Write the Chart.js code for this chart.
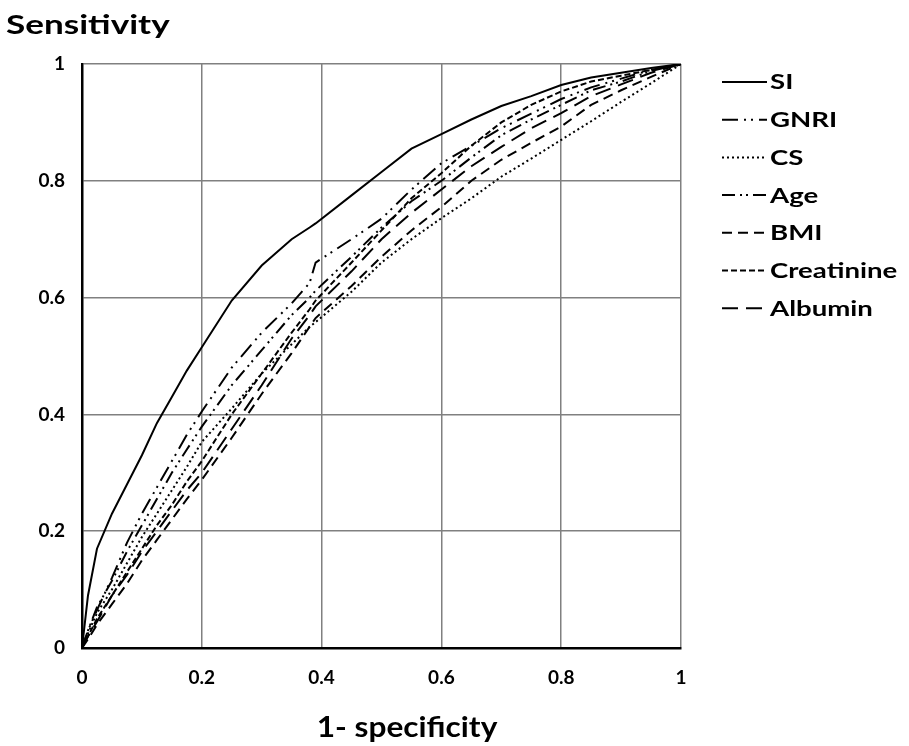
<!DOCTYPE html>
<html><head><meta charset="utf-8">
<script src="https://cdn.jsdelivr.net/npm/chart.js@4/dist/chart.umd.min.js"></script>
<style>html,body{margin:0;padding:0;background:#fff;}#wrap{width:909px;height:746px;position:relative;}</style>
</head><body><div id="wrap"><canvas id="c" width="909" height="746"></canvas></div>
<script>
// ---- data ----
const fpr = [0, 0.01, 0.025, 0.05, 0.075, 0.1, 0.125, 0.15, 0.175, 0.2, 0.25, 0.3, 0.35, 0.38, 0.39, 0.45, 0.5, 0.55, 0.6, 0.65, 0.7, 0.75, 0.8, 0.85, 0.9, 0.95, 1];
const tprSI =         [0, 0.09, 0.17, 0.23, 0.28, 0.33, 0.385, 0.43, 0.475, 0.515, 0.595, 0.655, 0.70, 0.72, 0.727, 0.775, 0.815, 0.855, 0.88, 0.905, 0.928, 0.945, 0.964, 0.977, 0.985, 0.993, 1];
const tprGNRI =       [0, 0.03, 0.065, 0.12, 0.18, 0.23, 0.275, 0.32, 0.365, 0.405, 0.48, 0.54, 0.59, 0.625, 0.66, 0.70, 0.735, 0.785, 0.83, 0.86, 0.89, 0.915, 0.94, 0.96, 0.975, 0.99, 1];
const tprCS =         [0, 0.025, 0.06, 0.10, 0.145, 0.19, 0.23, 0.27, 0.31, 0.353, 0.41, 0.47, 0.52, 0.55, 0.558, 0.61, 0.66, 0.70, 0.736, 0.77, 0.807, 0.838, 0.87, 0.902, 0.935, 0.967, 1];
const tprAge =        [0, 0.03, 0.07, 0.115, 0.165, 0.21, 0.255, 0.30, 0.34, 0.379, 0.45, 0.51, 0.57, 0.60, 0.612, 0.67, 0.72, 0.765, 0.80, 0.84, 0.878, 0.905, 0.93, 0.955, 0.97, 0.988, 1];
const tprBMI =        [0, 0.015, 0.04, 0.075, 0.11, 0.15, 0.185, 0.22, 0.255, 0.288, 0.36, 0.435, 0.505, 0.55, 0.565, 0.62, 0.67, 0.715, 0.755, 0.80, 0.836, 0.865, 0.893, 0.93, 0.955, 0.978, 1];
const tprCreatinine = [0, 0.02, 0.05, 0.09, 0.13, 0.17, 0.21, 0.245, 0.285, 0.32, 0.40, 0.47, 0.54, 0.58, 0.595, 0.66, 0.715, 0.77, 0.813, 0.86, 0.90, 0.93, 0.953, 0.97, 0.98, 0.99, 1];
const tprAlbumin =    [0, 0.02, 0.045, 0.09, 0.125, 0.165, 0.20, 0.235, 0.27, 0.30, 0.375, 0.45, 0.53, 0.57, 0.585, 0.645, 0.70, 0.745, 0.785, 0.825, 0.858, 0.89, 0.916, 0.945, 0.965, 0.985, 1];
const seriesNames = ['SI', 'GNRI', 'CS', 'Age', 'BMI', 'Creatinine', 'Albumin'];
const xTickLabels = ['0', '0.2', '0.4', '0.6', '0.8', '1'];
const yTickLabels = ['0', '0.2', '0.4', '0.6', '0.8', '1'];
const xAxisTitle = '1- specificity';
const yAxisTitle = 'Sensitivity';

// ---- styles ----
const seriesValues = [tprSI, tprGNRI, tprCS, tprAge, tprBMI, tprCreatinine, tprAlbumin];
const dashes = [[], [16, 6, 2, 5, 2, 6], [2, 3], [13, 5, 2, 4, 2, 5], [10, 6], [6, 3], [16, 8]];
const FONT = 'Lato, "Noto Sans", sans-serif';

const datasets = seriesNames.map((name, i) => ({
  label: name,
  data: fpr.map((x, j) => ({ x: x, y: seriesValues[i][j] })),
  borderColor: '#000',
  backgroundColor: '#000',
  borderWidth: 2,
  borderDash: dashes[i],
  borderCapStyle: 'butt',
  pointRadius: 0,
  showLine: true,
  fill: false,
  tension: 0
}));

function stretchedText(ctx, text, x, y, sx, align) {
  ctx.save();
  const w = ctx.measureText(text).width * sx;
  let left = x;
  if (align === 'center') left = x - w / 2;
  ctx.translate(left, y);
  ctx.scale(sx, 1);
  ctx.textAlign = 'left';
  ctx.fillText(text, 0, 0);
  ctx.restore();
}

const decor = {
  id: 'decor',
  afterDraw(chart) {
    const ctx = chart.ctx;
    ctx.save();
    ctx.fillStyle = '#000';
    ctx.textBaseline = 'alphabetic';
    ctx.font = 'bold 27px ' + FONT;
    stretchedText(ctx, yAxisTitle, 6, 34, 1.3, 'left');
    ctx.font = 'bold 28px ' + FONT;
    stretchedText(ctx, xAxisTitle, 407, 737, 1.13, 'center');
    // legend
    const x0 = 722, x1 = 767, y0 = 82, dy = 37.7;
    ctx.font = 'bold 20px ' + FONT;
    ctx.textBaseline = 'middle';
    chart.data.datasets.forEach((ds, i) => {
      const y = y0 + i * dy;
      ctx.beginPath();
      ctx.setLineDash(ds.borderDash);
      ctx.lineWidth = 2;
      ctx.strokeStyle = '#000';
      ctx.moveTo(x0, y);
      ctx.lineTo(x1, y);
      ctx.stroke();
      ctx.setLineDash([]);
      stretchedText(ctx, ds.label, 770, y + 1, 1.38, 'left');
    });
    ctx.restore();
  }
};

new Chart(document.getElementById('c'), {
  type: 'scatter',
  data: { datasets: datasets },
  options: {
    responsive: false,
    animation: false,
    devicePixelRatio: 1,
    layout: { padding: { left: 0, top: 64, right: 228, bottom: 0 } },
    plugins: { legend: { display: false }, tooltip: { enabled: false }, title: { display: false } },
    scales: {
      x: {
        type: 'linear', min: 0, max: 1,
        afterFit(s) { s.height = 98; },
        grid: { color: '#808080', lineWidth: 1.5, drawTicks: false },
        border: { color: '#000', width: 2.5 },
        ticks: {
          stepSize: 0.2, autoSkip: false, maxRotation: 0, padding: 18,
          color: '#000', font: { family: FONT, size: 19, weight: 'bold' },
          callback: (v) => xTickLabels[Math.round(v * 5)]
        }
      },
      y: {
        type: 'linear', min: 0, max: 1,
        afterFit(s) { s.width = 82; },
        grid: { color: '#808080', lineWidth: 1.5, drawTicks: false },
        border: { color: '#000', width: 2.5 },
        ticks: {
          stepSize: 0.2, autoSkip: false, padding: 17,
          color: '#000', font: { family: FONT, size: 19, weight: 'bold' },
          callback: (v) => yTickLabels[Math.round(v * 5)]
        }
      }
    }
  },
  plugins: [decor]
});
</script></body></html>
